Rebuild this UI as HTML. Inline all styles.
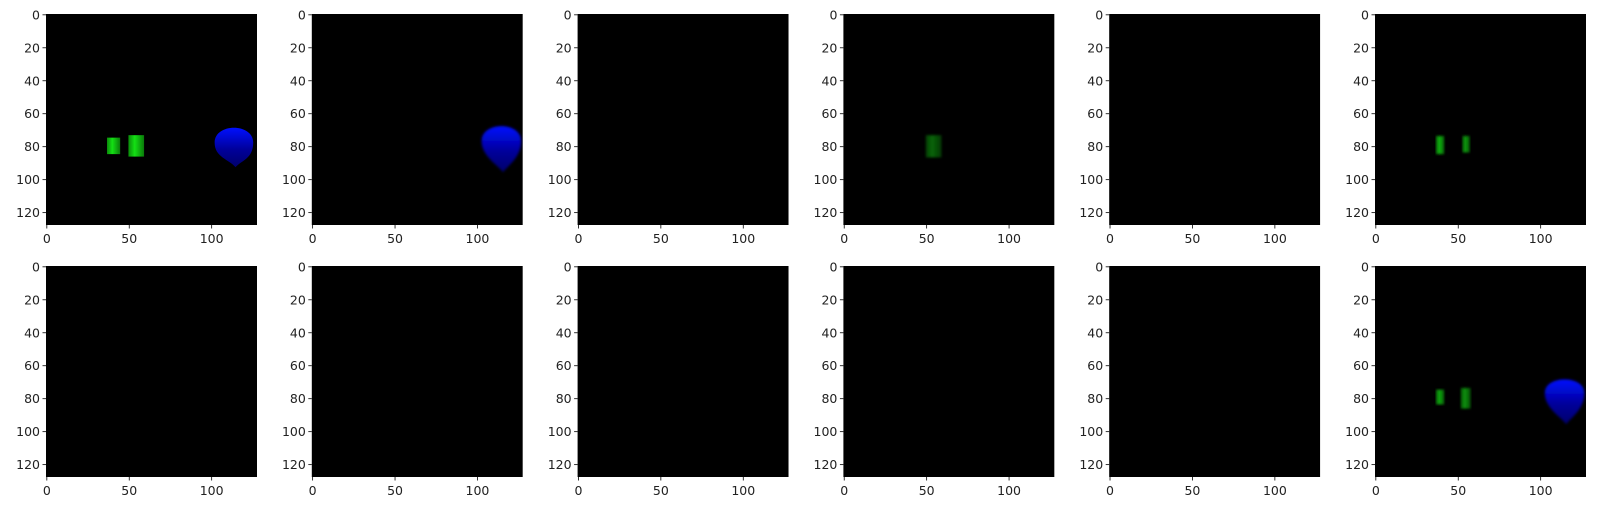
<!DOCTYPE html>
<html><head><meta charset="utf-8">
<style>
body{margin:0;background:#fff;}
svg text{font-family:"DejaVu Sans","Liberation Sans",sans-serif;font-size:12.5px;fill:#222;}
</style></head>
<body>
<svg id="fig" width="1598" height="510" xmlns="http://www.w3.org/2000/svg">
<defs>
<linearGradient id="gb" x1="0" y1="0" x2="0" y2="1"><stop offset="0" stop-color="#0010ff"/><stop offset="0.55" stop-color="#00009a"/><stop offset="1" stop-color="#00006a"/></linearGradient>
<linearGradient id="gg" x1="0" y1="0" x2="1" y2="0"><stop offset="0" stop-color="#0a8a0a"/><stop offset="0.4" stop-color="#14e014"/><stop offset="1" stop-color="#0a7a0a"/></linearGradient>
<filter id="blur"><feGaussianBlur stdDeviation="1.2"/></filter>
</defs>
</svg>
<script>
// Panel contents (data coordinates in image pixels 0..128)
const tickValsX = [0, 50, 100];
const tickValsY = [0, 20, 40, 60, 80, 100, 120];
// cans: [panel, x0, x1, y0, y1, opacity]
const cans = [
 [0, 37, 45, 75, 85, 1],
 [0, 50, 59.5, 73.5, 86.5, 1],
 [3, 50, 59.5, 73.5, 87, 0.45],
 [5, 37, 42, 74, 85, 0.8],
 [5, 53, 57.5, 74, 84, 0.7],
 [11, 37, 42, 75, 84, 0.75],
 [11, 52, 58, 74, 86.5, 0.65]
];
// balloons: [panel, cx, top, halfW, widestY, tipY, blurred]
const balloons = [
 [0, 114, 68, 11.7, 78, 93, 0],
 [1, 115, 67, 12, 77, 96, 1],
 [11, 115, 68, 12, 77, 96, 1]
];

const svg = document.getElementById('fig');
const NS = 'http://www.w3.org/2000/svg';
const size = 211, left0 = 46, colStep = 265.8, rowTops = [14, 266];
function mk(t, a, p){const e=document.createElementNS(NS,t);for(const k in a)e.setAttribute(k,a[k]);(p||svg).appendChild(e);return e;}

for (let i = 0; i < 12; i++) {
  const r = Math.floor(i/6), c = i%6;
  const L = left0 + c*colStep, T = rowTops[r];
  const sx = v => L + v*size/128;
  const sy = v => T + v*size/128;
  const g = mk('g', {});
  
  
  const bg = mk('rect', {x:L, y:T, width:size, height:size, fill:'#000'}, g);
  
  
  cans.filter(d => d[0] === i).forEach(d => {
    const e = mk('rect', {x:sx(d[1]), y:sy(d[3]), width:sx(d[2])-sx(d[1]), height:sy(d[4])-sy(d[3]), fill:'url(#gg)', opacity:d[5]}, g);
    if (d[5] < 1) e.setAttribute('filter', 'url(#blur)');
    
    
  });
  balloons.filter(d => d[0] === i).forEach(d => {
    const [, cx, top, hw, wy, tip, bl] = d;
    const p = `M${sx(cx-hw)},${sy(wy)} C${sx(cx-hw)},${sy(top-2)} ${sx(cx+hw)},${sy(top-2)} ${sx(cx+hw)},${sy(wy)} C${sx(cx+hw)},${sy(wy+10)} ${sx(cx+4)},${sy(tip-4)} ${sx(cx+1)},${sy(tip)} C${sx(cx-3)},${sy(tip-5)} ${sx(cx-hw)},${sy(wy+9)} ${sx(cx-hw)},${sy(wy)} Z`;
    const e = mk('path', {d:p, fill:'url(#gb)'}, g);
    if (bl) e.setAttribute('filter', 'url(#blur)');
    
    
  });
  tickValsX.forEach(v => {
    const x = sx(v+0.5);
    mk('line', {x1:x, x2:x, y1:T+size, y2:T+size+3.5, stroke:'#000', 'stroke-width':0.8}, g);
    const t = mk('text', {x:x, y:T+size+18, 'text-anchor':'middle'}, g);
    t.textContent = v;
    
    
  });
  tickValsY.forEach(v => {
    const y = sy(v+0.5);
    mk('line', {x1:L-3.5, x2:L, y1:y, y2:y, stroke:'#000', 'stroke-width':0.8}, g);
    const t = mk('text', {x:L-6, y:y+4.5, 'text-anchor':'end'}, g);
    t.textContent = v;
    
    
  });
}
for (let r = 0; r < 2; r++) for (let c = 0; c < 6; c++) {
  const L = left0 + c*colStep, T = rowTops[r];
  const m = mk('rect', {x:L+size, y:T-4, width:10, height:size+8, fill:'#fff'});
  
  
}
</script>
</body></html>
